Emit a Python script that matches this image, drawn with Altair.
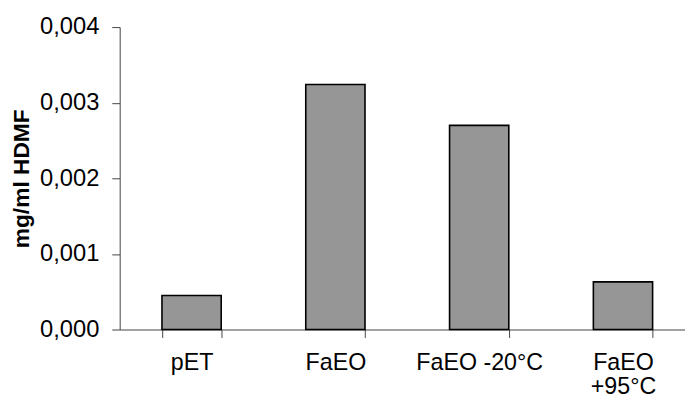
import altair as alt
import pandas as pd

categories = ["pET", "FaEO", "FaEO -20°C", "FaEO +95°C"]
values = [0.00045, 0.00324, 0.00270, 0.00063]

df = pd.DataFrame({"cat": categories, "val": values})

FONT = "Liberation Sans"

chart = alt.Chart(df).mark_bar(
    color="#969696", stroke="#000000", strokeWidth=1.6
).encode(
    x=alt.X(
        "cat:N",
        sort=categories,
        title=None,
        scale=alt.Scale(range=[0, 582], paddingInner=0.588, paddingOuter=0.294),
        axis=alt.Axis(
            labelAngle=0,
            labelFont=FONT,
            labelFontSize=23.5,
            labelColor="#000000",
            labelPadding=13,
            labelLineHeight=25,
            tickBand="extent",
            tickSize=8,
            tickColor="#444444",
            domainColor="#444444",
            labelExpr="datum.label == 'FaEO +95°C' ? ['FaEO', '+95°C'] : datum.label",
        ),
    ),
    y=alt.Y(
        "val:Q",
        scale=alt.Scale(domain=[0, 0.004], nice=False),
        axis=alt.Axis(
            title="mg/ml HDMF",
            titleFont=FONT,
            titleFontSize=23,
            titleFontWeight="bold",
            titleColor="#000000",
            titleAngle=270,
            titleBaseline="alphabetic",
            titleAlign="center",
            titleX=-92,
            titleY=153,
            values=[0, 0.001, 0.002, 0.003, 0.004],
            labelExpr="replace(format(datum.value, '.3f'), '.', ',')",
            labelFont=FONT,
            labelFontSize=24,
            labelColor="#000000",
            labelPadding=13,
            tickSize=8,
            tickColor="#444444",
            domainColor="#444444",
            grid=False,
        ),
    ),
).properties(
    width=572,
    height=306,
    autosize=alt.AutoSizeParams(type="none"),
    padding={"left": 113, "top": 17, "right": 0, "bottom": 68},
).configure_view(stroke=None)

chart.save("out.html", embed_options={"renderer": "svg", "actions": False})
